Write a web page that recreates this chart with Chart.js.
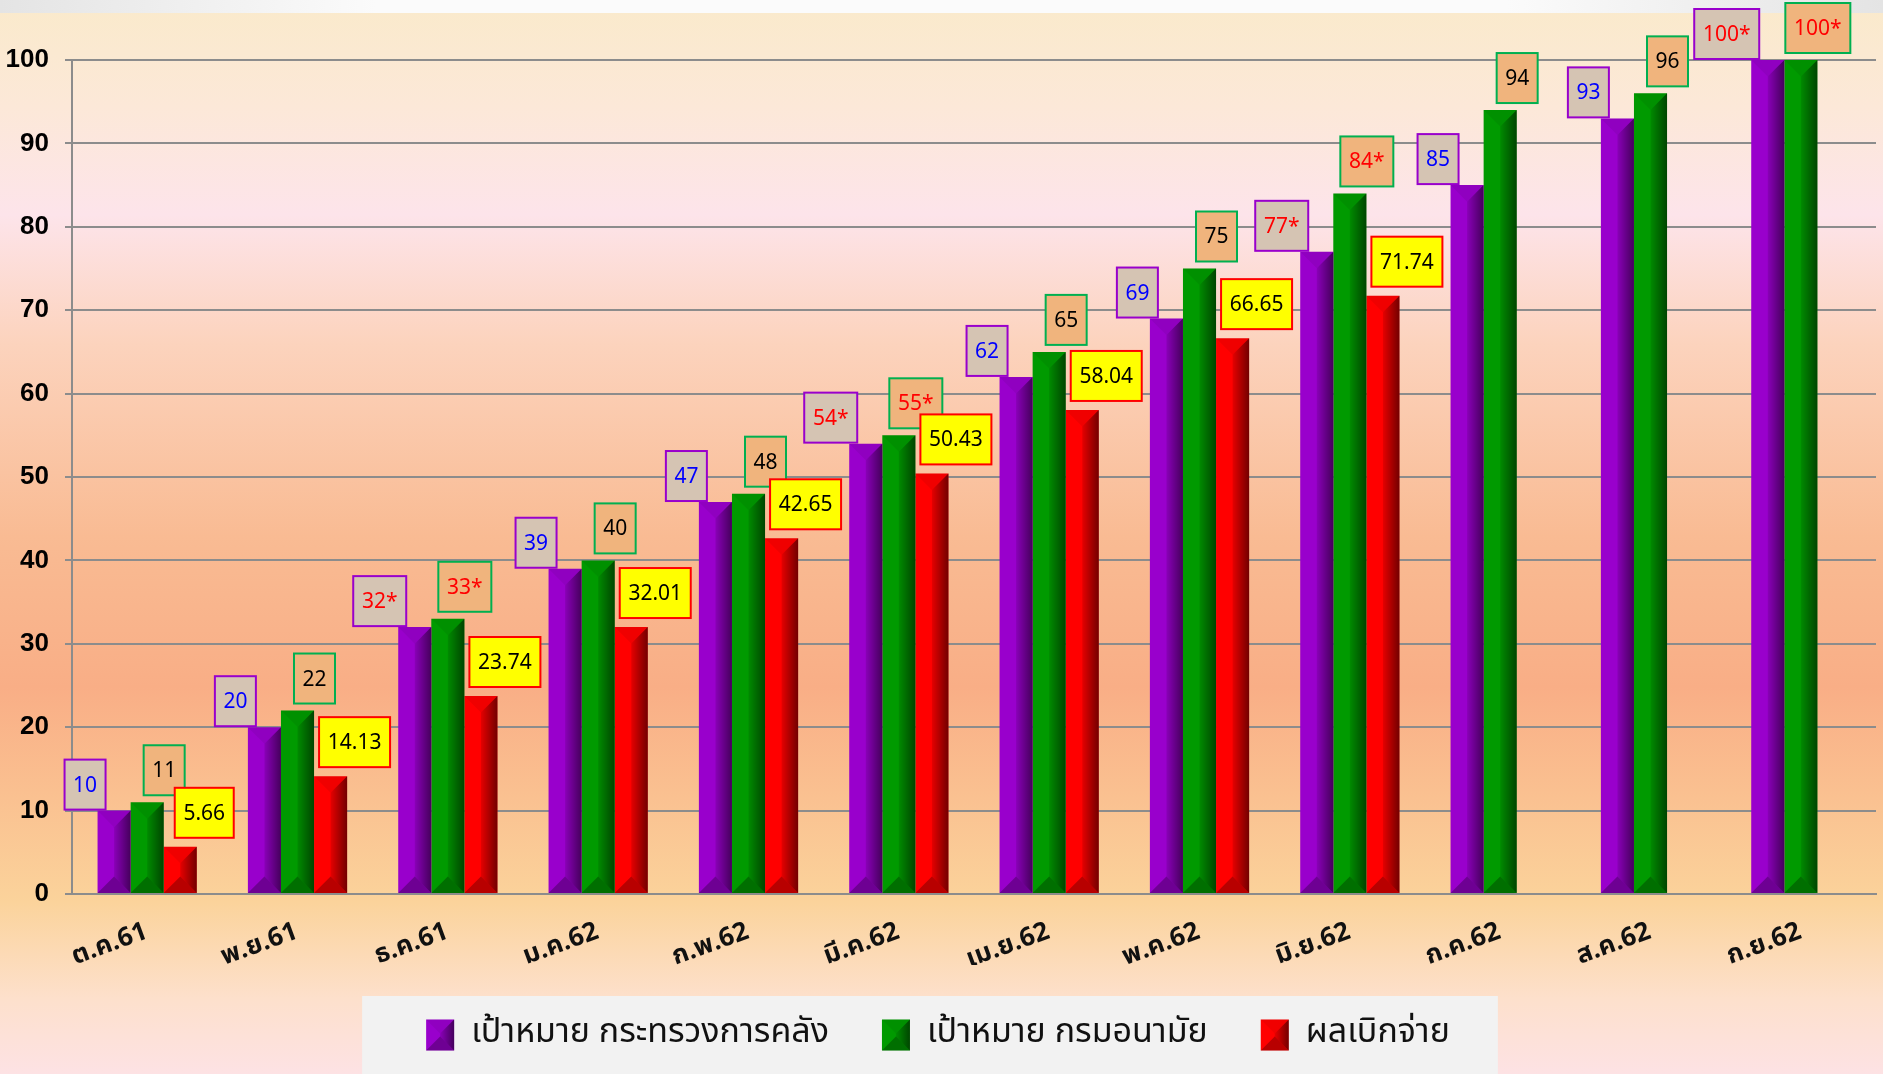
<!DOCTYPE html>
<html>
<head>
<meta charset="utf-8">
<title>เป้าหมายการเบิกจ่าย</title>
<script src="https://cdn.jsdelivr.net/npm/chart.js@4.4.1/dist/chart.umd.min.js"></script>
<style>
    html, body { margin: 0; padding: 0; background: #fbe9cb; }
    .chart-wrap { width: 1883px; height: 1074px; position: relative; }
</style>
</head>
<body>
<div class="chart-wrap"><canvas id="budgetChart"></canvas></div>
<script>
// Months (Thai fiscal year 2562)
const months = ['ต.ค.61', 'พ.ย.61', 'ธ.ค.61', 'ม.ค.62', 'ก.พ.62', 'มี.ค.62', 'เม.ย.62', 'พ.ค.62', 'มิ.ย.62', 'ก.ค.62', 'ส.ค.62', 'ก.ย.62'];

// Cumulative % targets and actual disbursement
const financeTarget = [10, 20, 32, 39, 47, 54, 62, 69, 77, 85, 93, 100];
const healthTarget = [11, 22, 33, 40, 48, 55, 65, 75, 84, 94, 96, 100];
const disbursed = [5.66, 14.13, 23.74, 32.01, 42.65, 50.43, 58.04, 66.65, 71.74, null, null, null];

// quarter-end months get a "*" on the target labels
const quarterEnds = [2, 5, 8, 11];

const yTicks = [0, 10, 20, 30, 40, 50, 60, 70, 80, 90, 100];

const seriesNames = ['เป้าหมาย กระทรวงการคลัง', 'เป้าหมาย กรมอนามัย', 'ผลเบิกจ่าย'];

const thaiFont = "'Noto Sans Thai', 'Noto Sans', Tahoma, sans-serif";

// pyramid-style bevel used on bars and legend swatches
function drawBevel(ctx, left, right, top, base) {
    const cx = (left + right) / 2;
    const hw = Math.min((right - left) / 2, (base - top) / 2);

    const g = ctx.createLinearGradient(cx, 0, right, 0);
    g.addColorStop(0, 'rgba(0,0,0,0.10)');
    g.addColorStop(1, 'rgba(0,0,0,0.55)');
    ctx.fillStyle = g;
    ctx.beginPath();
    ctx.moveTo(cx, top + hw);
    ctx.lineTo(right, top);
    ctx.lineTo(right, base);
    ctx.lineTo(cx, base - hw);
    ctx.closePath();
    ctx.fill();

    ctx.fillStyle = 'rgba(0,0,0,0.06)';
    ctx.beginPath();
    ctx.moveTo(left, top);
    ctx.lineTo(right, top);
    ctx.lineTo(cx, top + hw);
    ctx.closePath();
    ctx.fill();

    ctx.fillStyle = 'rgba(0,0,0,0.28)';
    ctx.beginPath();
    ctx.moveTo(left, base);
    ctx.lineTo(right, base);
    ctx.lineTo(cx, base - hw);
    ctx.closePath();
    ctx.fill();
}

// background + legend panel
const backdrop = {
    id: 'backdrop',
    beforeDraw(chart) {
        const { ctx, width, height } = chart;
        ctx.save();
        const bg = ctx.createLinearGradient(0, 0, 0, height);
        bg.addColorStop(0.0, '#faeacb');
        bg.addColorStop(0.10, '#fce8d8');
        bg.addColorStop(0.20, '#fde4ea');
        bg.addColorStop(0.32, '#fcd3bd');
        bg.addColorStop(0.50, '#f9bb93');
        bg.addColorStop(0.64, '#f9ae86');
        bg.addColorStop(0.84, '#fbd39b');
        bg.addColorStop(0.93, '#fde0cc');
        bg.addColorStop(1.0, '#fde2e4');
        ctx.fillStyle = bg;
        ctx.fillRect(0, 0, width, height);

        const strip = ctx.createLinearGradient(0, 0, width, 0);
        strip.addColorStop(0, '#e4e4e4');
        strip.addColorStop(0.2, '#fbfbfb');
        strip.addColorStop(0.8, '#fbfbfb');
        strip.addColorStop(1, '#e4e4e4');
        ctx.fillStyle = strip;
        ctx.fillRect(0, 0, width, 13);

        const boxes = chart.legend && chart.legend.legendHitBoxes;
        if (boxes && boxes.length) {
            const first = boxes[0];
            const last = boxes[boxes.length - 1];
            const x0 = first.left - 64;
            ctx.fillStyle = '#f2f2f2';
            ctx.fillRect(x0, first.top - 22, last.left + last.width + 48 - x0, height - first.top + 22);
        }
        ctx.restore();
    },
    afterDraw(chart) {
        // bevel on the legend swatches
        const lg = chart.legend;
        if (!lg || !lg.legendHitBoxes) return;
        const ctx = chart.ctx;
        const opts = lg.options.labels;
        ctx.save();
        lg.legendHitBoxes.forEach(hb => {
            const top = hb.top + Math.max((opts.font.size - opts.boxHeight) / 2, 0);
            drawBevel(ctx, hb.left, hb.left + opts.boxWidth, top, top + opts.boxHeight);
        });
        ctx.restore();
    }
};

const bevel = {
    id: 'bevel',
    afterDatasetsDraw(chart) {
        const ctx = chart.ctx;
        ctx.save();
        chart.data.datasets.forEach((ds, i) => {
            chart.getDatasetMeta(i).data.forEach((bar, j) => {
                if (ds.data[j] == null) return;
                drawBevel(ctx, bar.x - bar.width / 2, bar.x + bar.width / 2, bar.y, bar.base);
            });
        });
        ctx.restore();
    }
};

// value boxes above the bars
const boxStyles = [
    { fill: '#d5c4b3', border: '#9900cc', text: '#0000ff', dx: 'left', gap: 1 },
    { fill: '#f0b47d', border: '#00b050', text: '#000000', dx: 17, gap: 7 },
    { fill: '#ffff00', border: '#ff0000', text: '#000000', dx: 24, gap: 9 }
];

const valueBoxes = {
    id: 'valueBoxes',
    afterDatasetsDraw(chart) {
        const ctx = chart.ctx;
        ctx.save();
        ctx.font = "21px 'Noto Sans', sans-serif";
        ctx.textAlign = 'center';
        ctx.textBaseline = 'middle';
        chart.data.datasets.forEach((ds, i) => {
            const st = boxStyles[i];
            chart.getDatasetMeta(i).data.forEach((bar, j) => {
                const v = ds.data[j];
                if (v == null) return;
                const starred = i < 2 && quarterEnds.includes(j);
                const txt = (i === 2 ? v.toFixed(2) : String(v)) + (starred ? '*' : '');
                const w = Math.round(ctx.measureText(txt).width + 17);
                const h = 50;
                let x;
                if (st.dx === 'left') {
                    x = bar.x - bar.width / 2 + 8 - w;
                } else {
                    x = bar.x + st.dx - w / 2;
                }
                const y = bar.y - st.gap - h;
                ctx.fillStyle = st.fill;
                ctx.fillRect(x, y, w, h);
                ctx.lineWidth = 2;
                ctx.strokeStyle = st.border;
                ctx.strokeRect(x, y, w, h);
                ctx.fillStyle = starred ? '#ff0000' : st.text;
                ctx.fillText(txt, x + w / 2, y + h / 2 + 1);
            });
        });
        ctx.restore();
    }
};

document.addEventListener('DOMContentLoaded', () => {
    const ctx = document.getElementById('budgetChart').getContext('2d');
    new Chart(ctx, {
        type: 'bar',
        data: {
            labels: months,
            datasets: [
                { label: seriesNames[0], data: financeTarget, backgroundColor: '#9900cc', borderWidth: 0 },
                { label: seriesNames[1], data: healthTarget, backgroundColor: '#009a00', borderWidth: 0 },
                { label: seriesNames[2], data: disbursed, backgroundColor: '#ff0000', borderWidth: 0 }
            ]
        },
        options: {
            responsive: true,
            maintainAspectRatio: false,
            animation: false,
            layout: { padding: { top: 60, right: 7, left: 0, bottom: 12 } },
            datasets: {
                bar: { categoryPercentage: 0.66, barPercentage: 1 }
            },
            plugins: {
                legend: {
                    position: 'bottom',
                    labels: {
                        boxWidth: 28,
                        boxHeight: 31,
                        padding: 53,
                        color: '#111',
                        font: { family: thaiFont, size: 34 }
                    }
                },
                tooltip: { enabled: false }
            },
            scales: {
                x: {
                    grid: { display: false },
                    border: { display: true, color: '#8c8c8c', width: 2 },
                    ticks: {
                        color: '#111',
                        font: { family: thaiFont, size: 26, weight: 'bold' },
                        minRotation: 20,
                        maxRotation: 20,
                        padding: 16
                    },
                    afterFit(scale) { scale.height = 71; }
                },
                y: {
                    min: 0,
                    max: 100,
                    afterBuildTicks(scale) { scale.ticks = yTicks.map(v => ({ value: v })); },
                    grid: { color: '#8c8c8c', lineWidth: 2, tickLength: 7 },
                    border: { display: true, color: '#8c8c8c', width: 2 },
                    ticks: {
                        color: '#000',
                        padding: 16,
                        font: { family: "'Liberation Sans', Arial, sans-serif", size: 26, weight: 'bold' }
                    },
                    afterFit(scale) { scale.width = 72; }
                }
            }
        },
        plugins: [backdrop, bevel, valueBoxes]
    });
});
</script>
</body>
</html>
